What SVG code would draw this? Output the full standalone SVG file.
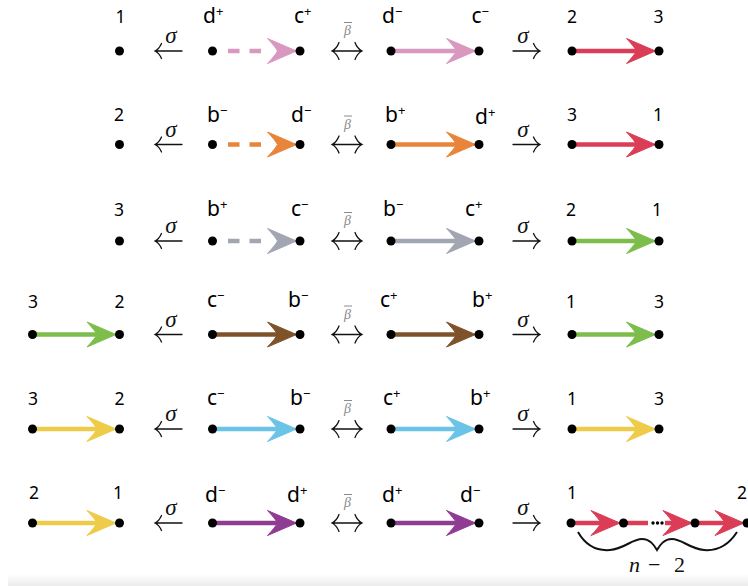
<svg xmlns="http://www.w3.org/2000/svg" xmlns:xlink="http://www.w3.org/1999/xlink" width="748" height="586" viewBox="0 0 748 586">
<defs>
<path id="ah" d="M0,0 L-29,-12.5 Q-21,-4 -19,0 Q-21,4 -29,12.5 Z"/>
<linearGradient id="band" x1="0" y1="0" x2="0" y2="1"><stop offset="0" stop-color="#ffffff"/><stop offset="1" stop-color="#ececec"/></linearGradient>
</defs>
<style>
.dot{fill:#000}
.lab{font-family:"Noto Sans","Open Sans",sans-serif;font-size:21px;fill:#000}
.num{font-family:"Noto Sans","Open Sans",sans-serif;font-size:17.5px;fill:#000;text-anchor:middle}
.sup{font-size:13px}
.e{fill:none;stroke-width:4.5}
.d{fill:none;stroke-width:4.5;stroke-dasharray:11.5 10}
.rel{fill:none;stroke:#111;stroke-width:1.3;stroke-linecap:round}
.sig{font-family:"Liberation Serif",serif;font-style:italic;font-size:23px;fill:#111;text-anchor:middle}
.bet{font-family:"Liberation Serif",serif;font-style:italic;font-size:14px;fill:#8a8a8a;text-anchor:middle}
.bbar{stroke:#8a8a8a;stroke-width:1}
.pink{stroke:#d898c0;fill:#d898c0}
.red{stroke:#db3d57;fill:#db3d57}
.org{stroke:#e8853a;fill:#e8853a}
.gry{stroke:#a2a6b2;fill:#a2a6b2}
.grn{stroke:#7dbd4c;fill:#7dbd4c}
.brn{stroke:#7f532a;fill:#7f532a}
.yel{stroke:#eecb48;fill:#eecb48}
.blu{stroke:#6cc3e8;fill:#6cc3e8}
.pur{stroke:#8f3d93;fill:#8f3d93}
.math{font-family:"Liberation Serif",serif;font-size:22px;fill:#111}
</style>
<rect x="8" y="574" width="740" height="12" fill="url(#band)"/>

<g id="connectors">
<path class="d pink" d="M228,51 H261"/><use href="#ah" class="pink" stroke="none" x="296.5" y="51"/>
<path class="e pink" d="M391,51 H457"/><use href="#ah" class="pink" stroke="none" x="475.5" y="51"/>
<path class="e red" d="M572,51 H637"/><use href="#ah" class="red" stroke="none" x="655.5" y="51"/>
<path class="d org" d="M228,144.5 H261"/><use href="#ah" class="org" stroke="none" x="296.5" y="144.5"/>
<path class="e org" d="M391,144.5 H457"/><use href="#ah" class="org" stroke="none" x="475.5" y="144.5"/>
<path class="e red" d="M572,144.5 H637"/><use href="#ah" class="red" stroke="none" x="655.5" y="144.5"/>
<path class="d gry" d="M228,241 H261"/><use href="#ah" class="gry" stroke="none" x="296.5" y="241"/>
<path class="e gry" d="M391,241 H457"/><use href="#ah" class="gry" stroke="none" x="475.5" y="241"/>
<path class="e grn" d="M572,241 H637"/><use href="#ah" class="grn" stroke="none" x="655.5" y="241"/>
<path class="e grn" d="M32.5,334.5 H98"/><use href="#ah" class="grn" stroke="none" x="116" y="334.5"/>
<path class="e brn" d="M212.5,334.5 H278"/><use href="#ah" class="brn" stroke="none" x="296.5" y="334.5"/>
<path class="e brn" d="M391,334.5 H457"/><use href="#ah" class="brn" stroke="none" x="475.5" y="334.5"/>
<path class="e grn" d="M572,334.5 H637"/><use href="#ah" class="grn" stroke="none" x="655.5" y="334.5"/>
<path class="e yel" d="M32.5,429 H98"/><use href="#ah" class="yel" stroke="none" x="116" y="429"/>
<path class="e blu" d="M212.5,429 H278"/><use href="#ah" class="blu" stroke="none" x="296.5" y="429"/>
<path class="e blu" d="M391,429 H457"/><use href="#ah" class="blu" stroke="none" x="475.5" y="429"/>
<path class="e yel" d="M572,429 H637"/><use href="#ah" class="yel" stroke="none" x="655.5" y="429"/>
<path class="e yel" d="M32.5,523 H98"/><use href="#ah" class="yel" stroke="none" x="116" y="523"/>
<path class="e pur" d="M212.5,523 H278"/><use href="#ah" class="pur" stroke="none" x="296.5" y="523"/>
<path class="e pur" d="M391,523 H457"/><use href="#ah" class="pur" stroke="none" x="475.5" y="523"/>
<path class="e red" d="M571,523 H602"/><use href="#ah" class="red" stroke="none" x="620" y="523"/>
<path class="e red" d="M623.5,523 H648"/>
<circle cx="653" cy="523" r="1.7"/><circle cx="657.5" cy="523" r="1.7"/><circle cx="662" cy="523" r="1.7"/>
<path class="e red" d="M665,523 H674"/><use href="#ah" class="red" stroke="none" x="692" y="523"/>
<path class="e red" d="M695,523 H726"/><use href="#ah" class="red" stroke="none" x="744" y="523"/>
</g>

<g id="relations">
<g id="lsig">
<path class="rel" d="M155,51 H182 M161.5,43.5 C160,47 158,49.5 155,51 C158,52.5 160,55 161.5,58.5"/>
<text class="sig" x="171" y="43">σ</text>
</g>
<use href="#lsig" y="93.5"/>
<use href="#lsig" y="190"/>
<use href="#lsig" y="283.5"/>
<use href="#lsig" y="378"/>
<use href="#lsig" y="472"/>
<g id="bb">
<path class="rel" d="M332,51 H362 M339,42.5 C337.5,46.5 335,49.5 332,51 C335,52.5 337.5,55.5 339,59.5 M355,42.5 C356.5,46.5 359,49.5 362,51 C359,52.5 356.5,55.5 355,59.5"/>
<text class="bet" x="347.5" y="35">β</text>
<path class="bbar" d="M344,22.5 H352"/>
</g>
<use href="#bb" y="93.5"/>
<use href="#bb" y="190"/>
<use href="#bb" y="283.5"/>
<use href="#bb" y="378"/>
<use href="#bb" y="472"/>
<g id="rsig">
<path class="rel" d="M513,51 H540 M533.5,43.5 C535,47 537,49.5 540,51 C537,52.5 535,55 533.5,58.5"/>
<text class="sig" x="523" y="43">σ</text>
</g>
<use href="#rsig" y="93.5"/>
<use href="#rsig" y="190"/>
<use href="#rsig" y="283.5"/>
<use href="#rsig" y="378"/>
<use href="#rsig" y="472"/>
</g>

<g id="r1-B"><circle class="dot" cx="119.5" cy="51" r="4.5"/><text class="num" x="120.5" y="23">1</text></g>
<g id="r1-C"><circle class="dot" cx="212.5" cy="51" r="4.5"/><text class="lab" x="203" y="23">d<tspan class="sup" dy="-7">+</tspan></text></g>
<g id="r1-D"><circle class="dot" cx="300" cy="51" r="4.5"/><text class="lab" x="294" y="23">c<tspan class="sup" dy="-7">+</tspan></text></g>
<g id="r1-E"><circle class="dot" cx="391" cy="51" r="4.5"/><text class="lab" x="382" y="23">d<tspan class="sup" dy="-7">−</tspan></text></g>
<g id="r1-F"><circle class="dot" cx="479" cy="51" r="4.5"/><text class="lab" x="471.5" y="23">c<tspan class="sup" dy="-7">−</tspan></text></g>
<g id="r1-G"><circle class="dot" cx="572" cy="51" r="4.5"/><text class="num" x="572" y="23">2</text></g>
<g id="r1-H"><circle class="dot" cx="659" cy="51" r="4.5"/><text class="num" x="658.5" y="23">3</text></g>

<g id="r2-B"><circle class="dot" cx="119.5" cy="144.5" r="4.5"/><text class="num" x="119" y="121">2</text></g>
<g id="r2-C"><circle class="dot" cx="212.5" cy="144.5" r="4.5"/><text class="lab" x="207" y="122">b<tspan class="sup" dy="-7">−</tspan></text></g>
<g id="r2-D"><circle class="dot" cx="300" cy="144.5" r="4.5"/><text class="lab" x="291" y="122">d<tspan class="sup" dy="-7">−</tspan></text></g>
<g id="r2-E"><circle class="dot" cx="391" cy="144.5" r="4.5"/><text class="lab" x="385" y="122">b<tspan class="sup" dy="-7">+</tspan></text></g>
<g id="r2-F"><circle class="dot" cx="479" cy="144.5" r="4.5"/><text class="lab" x="475" y="124">d<tspan class="sup" dy="-7">+</tspan></text></g>
<g id="r2-G"><circle class="dot" cx="572" cy="144.5" r="4.5"/><text class="num" x="572" y="121">3</text></g>
<g id="r2-H"><circle class="dot" cx="659" cy="144.5" r="4.5"/><text class="num" x="658" y="121">1</text></g>

<g id="r3-B"><circle class="dot" cx="119.5" cy="241" r="4.5"/><text class="num" x="119" y="216">3</text></g>
<g id="r3-C"><circle class="dot" cx="212.5" cy="241" r="4.5"/><text class="lab" x="207" y="216">b<tspan class="sup" dy="-7">+</tspan></text></g>
<g id="r3-D"><circle class="dot" cx="300" cy="241" r="4.5"/><text class="lab" x="291" y="216">c<tspan class="sup" dy="-7">−</tspan></text></g>
<g id="r3-E"><circle class="dot" cx="391" cy="241" r="4.5"/><text class="lab" x="383" y="216">b<tspan class="sup" dy="-7">−</tspan></text></g>
<g id="r3-F"><circle class="dot" cx="479" cy="241" r="4.5"/><text class="lab" x="465" y="216">c<tspan class="sup" dy="-7">+</tspan></text></g>
<g id="r3-G"><circle class="dot" cx="572" cy="241" r="4.5"/><text class="num" x="571" y="216">2</text></g>
<g id="r3-H"><circle class="dot" cx="659" cy="241" r="4.5"/><text class="num" x="657" y="216">1</text></g>

<g id="r4-A"><circle class="dot" cx="32.5" cy="334.5" r="4.5"/><text class="num" x="33" y="308">3</text></g>
<g id="r4-B"><circle class="dot" cx="119.5" cy="334.5" r="4.5"/><text class="num" x="119.5" y="308">2</text></g>
<g id="r4-C"><circle class="dot" cx="212.5" cy="334.5" r="4.5"/><text class="lab" x="207" y="307">c<tspan class="sup" dy="-7">−</tspan></text></g>
<g id="r4-D"><circle class="dot" cx="300" cy="334.5" r="4.5"/><text class="lab" x="288" y="307">b<tspan class="sup" dy="-7">−</tspan></text></g>
<g id="r4-E"><circle class="dot" cx="391" cy="334.5" r="4.5"/><text class="lab" x="380" y="307">c<tspan class="sup" dy="-7">+</tspan></text></g>
<g id="r4-F"><circle class="dot" cx="479" cy="334.5" r="4.5"/><text class="lab" x="472" y="307">b<tspan class="sup" dy="-7">+</tspan></text></g>
<g id="r4-G"><circle class="dot" cx="572" cy="334.5" r="4.5"/><text class="num" x="571" y="308">1</text></g>
<g id="r4-H"><circle class="dot" cx="659" cy="334.5" r="4.5"/><text class="num" x="659" y="308">3</text></g>

<g id="r5-A"><circle class="dot" cx="32.5" cy="429" r="4.5"/><text class="num" x="33" y="405">3</text></g>
<g id="r5-B"><circle class="dot" cx="119.5" cy="429" r="4.5"/><text class="num" x="119.5" y="405">2</text></g>
<g id="r5-C"><circle class="dot" cx="212.5" cy="429" r="4.5"/><text class="lab" x="207" y="405">c<tspan class="sup" dy="-7">−</tspan></text></g>
<g id="r5-D"><circle class="dot" cx="300" cy="429" r="4.5"/><text class="lab" x="290" y="405">b<tspan class="sup" dy="-7">−</tspan></text></g>
<g id="r5-E"><circle class="dot" cx="391" cy="429" r="4.5"/><text class="lab" x="383" y="405">c<tspan class="sup" dy="-7">+</tspan></text></g>
<g id="r5-F"><circle class="dot" cx="479" cy="429" r="4.5"/><text class="lab" x="470" y="405">b<tspan class="sup" dy="-7">+</tspan></text></g>
<g id="r5-G"><circle class="dot" cx="572" cy="429" r="4.5"/><text class="num" x="572" y="405">1</text></g>
<g id="r5-H"><circle class="dot" cx="659" cy="429" r="4.5"/><text class="num" x="659" y="405">3</text></g>

<g id="r6-A"><circle class="dot" cx="32.5" cy="523" r="4.5"/><text class="num" x="34" y="499">2</text></g>
<g id="r6-B"><circle class="dot" cx="119.5" cy="523" r="4.5"/><text class="num" x="118" y="499">1</text></g>
<g id="r6-C"><circle class="dot" cx="212.5" cy="523" r="4.5"/><text class="lab" x="205" y="502">d<tspan class="sup" dy="-7">−</tspan></text></g>
<g id="r6-D"><circle class="dot" cx="300" cy="523" r="4.5"/><text class="lab" x="287" y="502">d<tspan class="sup" dy="-7">+</tspan></text></g>
<g id="r6-E"><circle class="dot" cx="391" cy="523" r="4.5"/><text class="lab" x="382" y="502">d<tspan class="sup" dy="-7">+</tspan></text></g>
<g id="r6-F"><circle class="dot" cx="479" cy="523" r="4.5"/><text class="lab" x="460" y="502">d<tspan class="sup" dy="-7">−</tspan></text></g>
<g id="r6-G"><circle class="dot" cx="571" cy="523" r="4.5"/><text class="num" x="572" y="499">1</text></g>
<g id="r6-c1"><circle class="dot" cx="623.5" cy="523" r="4.5"/></g>
<g id="r6-c2"><circle class="dot" cx="695" cy="523" r="4.5"/></g>
<g id="r6-H"><circle class="dot" cx="747" cy="523" r="4.5"/><text class="num" x="742" y="499">2</text></g>

<g id="brace">
<path d="M578,532 C586,546 598,551 610,550 C624,549 632,539 642,539 C650,539 654,545 657,550 C660,545 664,539 672,539 C682,539 690,549 704,550 C716,551 728,546 737,532" fill="none" stroke="#111" stroke-width="2"/>
<text class="math" y="572"><tspan x="629" font-style="italic">n</tspan><tspan x="648">−</tspan><tspan x="674">2</tspan></text>
</g>
</svg>
